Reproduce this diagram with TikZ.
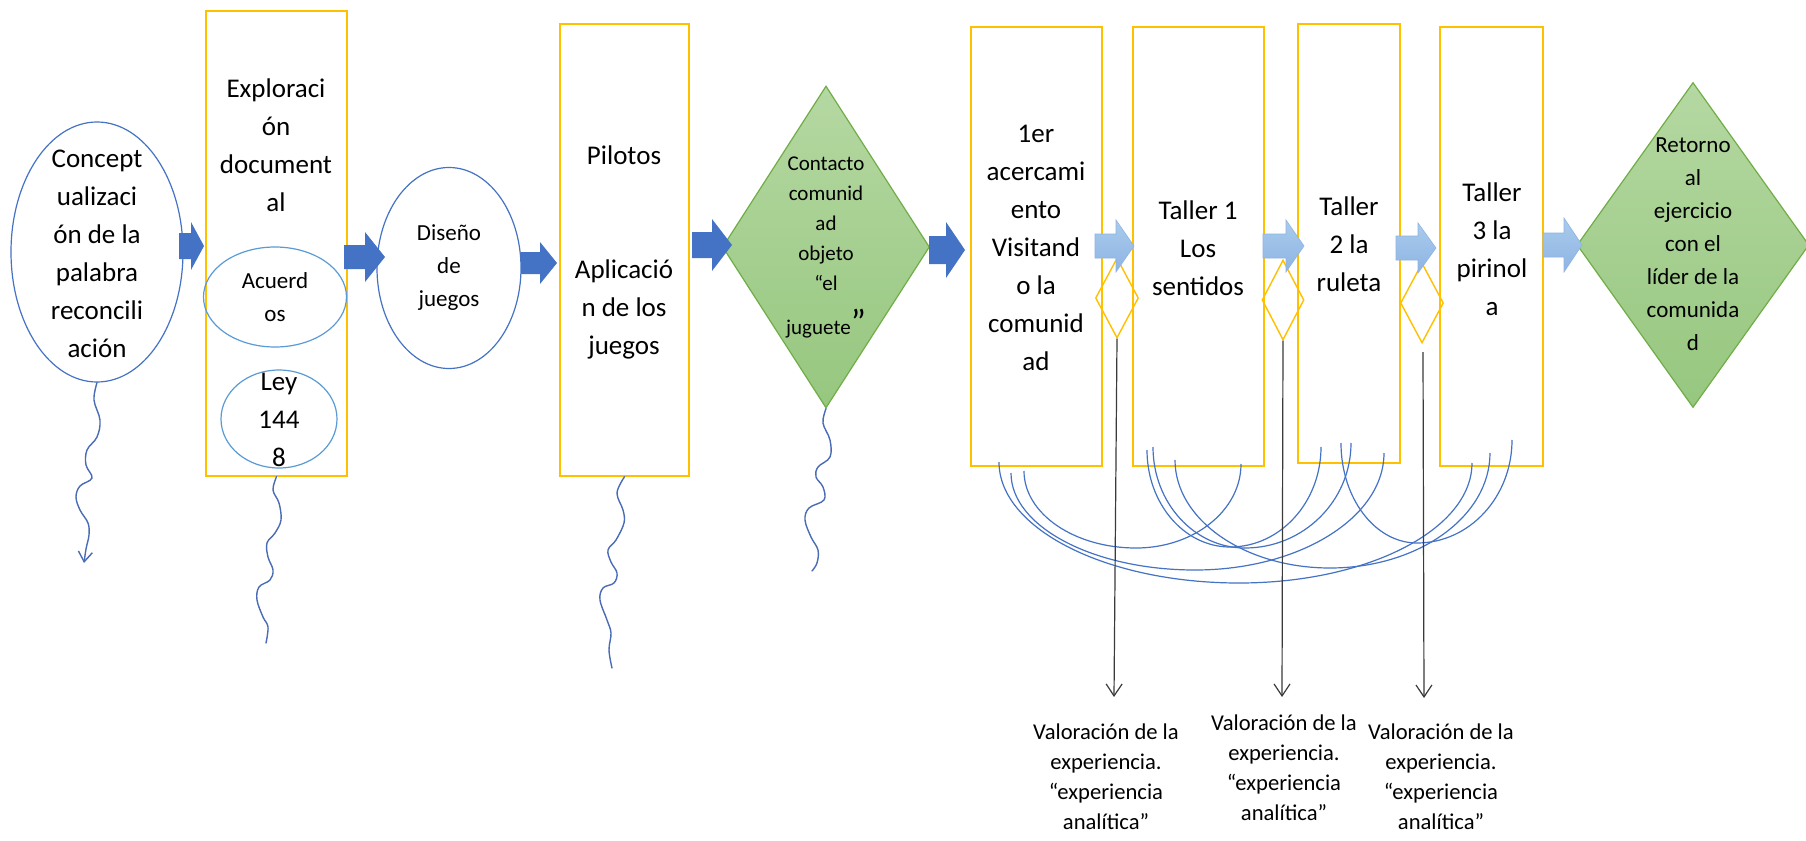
\documentclass[tikz,border=0pt]{standalone}
\usepackage{fontspec}
\setmainfont{Carlito}
\usetikzlibrary{shapes.geometric,arrows.meta}
\definecolor{eblue}{HTML}{4472C4}
\definecolor{lblue}{HTML}{5B9BD5}
\definecolor{gold}{HTML}{FFC000}
\definecolor{gtop}{HTML}{B5D8A2}
\definecolor{gbot}{HTML}{96C77F}
\definecolor{gline}{HTML}{70AD47}
\definecolor{latop}{HTML}{A9CBEC}
\definecolor{labot}{HTML}{8EB4E3}
\definecolor{squig}{HTML}{4A6CB5}
\definecolor{vline}{HTML}{3A3A3A}
% block arrow: #1 style, #2 tail x, #3 tip x, #4 y centre, #5 body half, #6 head half, #7 head length
\newcommand\blockarr[7]{%
  \path[#1] (#2,#4-#5) -- (#3-#7,#4-#5) -- (#3-#7,#4-#6) -- (#3,#4) -- (#3-#7,#4+#6) -- (#3-#7,#4+#5) -- (#2,#4+#5) -- cycle;}
\begin{document}
\begin{tikzpicture}[x=0.5pt,y=-0.5pt,
  big/.style={font=\fontsize{13.5}{19}\selectfont, align=center, inner sep=0pt},
  med/.style={font=\fontsize{11.5}{16.5}\selectfont, align=center, inner sep=0pt},
  sml/.style={font=\fontsize{10.5}{15}\selectfont, align=center, inner sep=0pt},
  bot/.style={font=\fontsize{11.3}{15}\selectfont, align=center, inner sep=0pt},
  ovalshape/.style={ellipse, draw=eblue, line width=0.6pt, inner sep=0pt},
  ovalsub/.style={ellipse, draw=lblue, line width=0.6pt, inner sep=0pt},
  boxshape/.style={rectangle, draw=gold, line width=0.75pt, inner sep=0pt},
  gdiam/.style={diamond, draw=gline, line width=0.6pt, top color=gtop, bottom color=gbot, inner sep=0pt},
  sdiam/.style={diamond, draw=gold, line width=0.7pt, inner sep=0pt},
  darrow/.style={fill=eblue},
  larrow/.style={top color=latop, bottom color=labot, draw=labot, line width=0.3pt},
  squiggle/.style={draw=squig, line width=0.7pt, line cap=round, line join=round},
  arcline/.style={draw=eblue, line width=0.6pt},
  vconn/.style={draw=vline, line width=0.6pt, -{Straight Barb[length=6pt,width=8pt]}},
]
\useasboundingbox (0,0) rectangle (1806,841);
\fill[white] (0,0) rectangle (1806,841);

% ---- main shapes
\node[ovalshape, minimum width=86pt, minimum height=130pt] (concept) at (97,252) {};
\node[boxshape, minimum width=70.5pt, minimum height=232.5pt] (expl) at (276.5,243.5) {};
\node[ovalsub, minimum width=71.5pt, minimum height=50pt] (acu) at (275,297) {};
\node[ovalsub, minimum width=58pt, minimum height=49pt] (ley) at (279,419) {};
\node[ovalshape, minimum width=72pt, minimum height=100.5pt] (dis) at (449,268) {};
\node[boxshape, minimum width=64.5pt, minimum height=226pt] (pil) at (624.5,250) {};
\node[gdiam, minimum width=103.5pt, minimum height=161pt] (con) at (826,247) {};
\node[boxshape, minimum width=65.5pt, minimum height=219.5pt] (ler) at (1036.5,246.5) {};
\node[boxshape, minimum width=65.5pt, minimum height=219.5pt] (tal1) at (1198.5,246.5) {};
\node[boxshape, minimum width=51pt, minimum height=219.5pt] (tal2) at (1349,243.5) {};
\node[boxshape, minimum width=51.5pt, minimum height=219.5pt] (tal3) at (1491.5,246.5) {};
\node[gdiam, minimum width=116pt, minimum height=162.5pt] (ret) at (1693,245) {};

% small diamonds
\node[sdiam, minimum width=21.5pt, minimum height=40pt] (sd1) at (1117,298) {};
\node[sdiam, minimum width=21pt, minimum height=40pt] (sd2) at (1283,300) {};
\node[sdiam, minimum width=21.5pt, minimum height=40pt] (sd3) at (1422,303) {};

% ---- arcs under the workshop boxes (start a, lowest point m, end b)
\coordinate (a1) at (1024,471); \coordinate (m1) at (1136,548); \coordinate (b1) at (1241,464);
\coordinate (a2) at (999,462);  \coordinate (m2) at (1239,583); \coordinate (b2) at (1472,463);
\coordinate (a3) at (1011,473); \coordinate (m3) at (1195,570); \coordinate (b3) at (1384,453);
\coordinate (a4) at (1147,450); \coordinate (m4) at (1230,547); \coordinate (b4) at (1321,447);
\coordinate (a5) at (1153,447); \coordinate (m5) at (1245,548); \coordinate (b5) at (1351,443);
\coordinate (a6) at (1175,460); \coordinate (m6) at (1330,568); \coordinate (b6) at (1490,453);
\coordinate (a7) at (1341,443); \coordinate (m7) at (1417,543); \coordinate (b7) at (1512,440);
\draw[arcline] (a1) .. controls +(0,42.5) and +(-62,0) .. (m1) .. controls +(58,0) and +(0,46.4) .. (b1);
\draw[arcline] (a2) .. controls +(0,66.8) and +(-132.6,0) .. (m2) .. controls +(128.7,0) and +(0,66.3) .. (b2);
\draw[arcline] (a3) .. controls +(0,53.6) and +(-101.6,0) .. (m3) .. controls +(104.4,0) and +(0,64.6) .. (b3);
\draw[arcline] (a4) .. controls +(0,53.6) and +(-45.8,0) .. (m4) .. controls +(50.3,0) and +(0,55.2) .. (b4);
\draw[arcline] (a5) .. controls +(0,55.8) and +(-50.8,0) .. (m5) .. controls +(58.5,0) and +(0,58) .. (b5);
\draw[arcline] (a6) .. controls +(0,59.6) and +(-85.6,0) .. (m6) .. controls +(88.4,0) and +(0,63.5) .. (b6);
\draw[arcline] (a7) .. controls +(0,55.2) and +(-42,0) .. (m7) .. controls +(52.5,0) and +(0,56.9) .. (b7);

% ---- squiggles
\draw[squiggle, -{Straight Barb[length=5pt,width=7pt]}] plot[smooth, tension=0.6] coordinates {(concept.south) (94,400) (100,420) (97,437) (87,450) (86,465) (92,478) (80,486) (76,497) (80,510) (88,523) (89,535) (86,549) (84,563)};
\draw[squiggle] plot[smooth, tension=0.6] coordinates {(expl.south) (273,490) (279,503) (281,520) (275,533) (267,543) (268,557) (273,570) (270,580) (259,587) (257,600) (263,617) (268,627) (266,643)};
\draw[squiggle] plot[smooth, tension=0.6] coordinates {(pil.south) (617,493) (623,510) (624,523) (616,540) (608,550) (611,562) (617,573) (614,583) (603,588) (600,600) (607,620) (611,633) (609,650) (612,668)};
\draw[squiggle] plot[smooth, tension=0.6] coordinates {(con.south) (823,423) (830,440) (830,457) (818,467) (816,477) (823,487) (824,500) (809,508) (805,520) (811,537) (818,550) (817,563) (812,571)};

% ---- block arrows
\blockarr{darrow}{179}{204}{246}{13}{24}{13}
\blockarr{darrow}{344}{385}{257}{12}{25}{20}
\blockarr{darrow}{521}{557}{263}{11}{21}{17}
\blockarr{darrow}{692}{732}{245}{13}{26}{20}
\blockarr{darrow}{929}{965}{250}{14}{28}{19}
\blockarr{larrow}{1095}{1134}{246}{12}{26}{18}
\blockarr{larrow}{1263}{1304}{246}{12}{26}{18}
\blockarr{larrow}{1396}{1436}{248}{12}{25}{18}
\blockarr{larrow}{1543}{1582}{245}{12}{27}{18}

% ---- texts
\node[big] (concept-t) at (97,254) {Concept\\ualizaci\\ón de la\\palabra\\reconcili\\ación};
\node[big] (expl-t) at (276,145) {Exploraci\\ón\\document\\al};
\node[med] (acu-t) at (275,297) {Acuerd\\os};
\node[big] (ley-t) at (279,420) {Ley\\144\\8};
\node[med] (dis-t) at (449,268) {Diseño\\de\\juegos};
\node[big] (pil-t) at (624,155) {Pilotos};
\node[big] (apl-t) at (624,309) {Aplicació\\n de los\\juegos};
\node[sml] (con-t) at (826,247) {Contacto\\comunid\\ad\\objeto\\“el\\[7pt]juguete{\fontsize{18}{18}\selectfont ”}};
\node[big] (ler-t) at (1036,248) {1er\\acercami\\ento\\Visitand\\o la\\comunid\\ad};
\node[big] (tal1-t) at (1198,248) {Taller 1\\Los\\sentidos};
\node[big] (tal2-t) at (1349,244) {Taller\\2 la\\ruleta};
\node[big] (tal3-t) at (1492,249) {Taller\\3 la\\pirinol\\a};
\node[med] (ret-t) at (1693,244) {Retorno\\al\\ejercicio\\con el\\líder de la\\comunida\\d};

\node[bot] (val1) at (1106,777) {Valoración de la\\experiencia.\\“experiencia\\analítica”};
\node[bot] (val2) at (1284,768) {Valoración de la\\experiencia.\\“experiencia\\analítica”};
\node[bot] (val3) at (1441,777) {Valoración de la\\experiencia.\\“experiencia\\analítica”};

% ---- evaluation connectors
\coordinate (v1e) at (1114,697);
\coordinate (v2e) at (1282,697);
\coordinate (v3s) at (1423,352);
\coordinate (v3e) at (1424,698);
\draw[vconn] (sd1.south) -- (v1e);
\draw[vconn] (sd2.south) -- (v2e);
\draw[vconn] (v3s) -- (v3e);
\end{tikzpicture}
\end{document}
